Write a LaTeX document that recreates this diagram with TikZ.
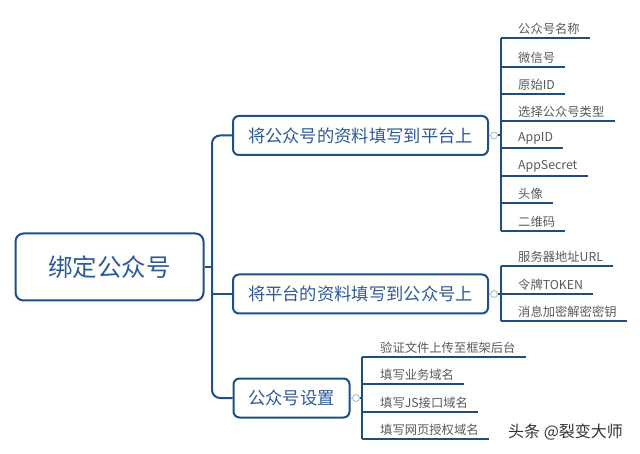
\documentclass[tikz,border=0pt]{standalone}
\usepackage{fontspec}
\setmainfont{Noto Sans CJK SC}
\usetikzlibrary{calc}
\definecolor{boxblue}{HTML}{1F4E8A}
\definecolor{txtblue}{HTML}{2E5A96}
\definecolor{lineblue}{HTML}{1F4E79}
\definecolor{leafgray}{HTML}{5A5A5A}
\definecolor{dotgray}{HTML}{A9B7C9}
\tikzset{
  rootbox/.style={draw=boxblue, line width=2pt, rounded corners=8pt, fill=white,
    minimum width=188pt, minimum height=67pt, inner sep=0pt,
    text=txtblue, font=\fontsize{24.5}{27}\selectfont},
  branchbox/.style={draw=boxblue, line width=2pt, rounded corners=6pt, fill=white,
    minimum height=39pt, inner sep=0pt, text=txtblue, font=\fontsize{17.3}{20}\selectfont},
  leaf/.style={anchor=south west, inner xsep=0pt, inner ysep=3pt, text=leafgray,
    font=\fontsize{12.3}{14}\selectfont},
  conn/.style={draw=boxblue, line width=2pt},
  leafline/.style={draw=lineblue, line width=2pt},
  toggle/.style={circle, draw=dotgray, line width=0.8pt, fill=white, minimum size=7pt, inner sep=0pt},
  thin/.style={draw=dotgray, line width=0.8pt},
}
\begin{document}
\begin{tikzpicture}[x=1pt,y=-1pt]
\useasboundingbox[fill=white] (0,0) rectangle (640,454);

% root and branches
\node[rootbox] (root) at (109.5,267) {绑定公众号};
\node[branchbox, minimum width=255pt] (b1) at (360.5,135.5) {将公众号的资料填写到平台上};
\node[branchbox, minimum width=255pt] (b2) at (360.5,294) {将平台的资料填写到公众号上};
\node[branchbox, minimum width=116pt] (b3) at (291.5,398) {公众号设置};

% main trunk
\coordinate (tr) at (212,267);
\draw[conn] (root.east) -- (tr);
\draw[conn, rounded corners=8pt] (b1.west) -| (tr) |- (b3.west);
\draw[conn] (tr |- b2.west) -- (b2.west);

% toggles
\node[toggle] (g1) at (494,135.5) {};
\node[toggle] (g2) at (494,294) {};
\node[toggle] (g3) at (356,398) {};
\draw[thin] (b1.east) -- (g1.west);
\draw[thin] (b2.east) -- (g2.west);
\draw[thin] (b3.east) -- (g3.west);

% leaf trunks
\coordinate (k1) at (501,38);
\coordinate (k1e) at (501,231);
\coordinate (k2) at (501,266);
\coordinate (k2e) at (501,321);
\coordinate (k3) at (362,357);
\coordinate (k3e) at (362,439);
\draw[leafline] (g1.east) -- (k1 |- g1.east);
\draw[leafline] (g2.east) -- (k2 |- g2.east);
\draw[leafline] (g3.east) -- (k3 |- g3.east);
\draw[leafline] (k1) -- (k1e);
\draw[leafline] (k2) -- (k2e);
\draw[leafline] (k3) -- (k3e);

% branch 1 leaves
\node[leaf] (a1) at (518,38) {公众号名称};
\node[leaf] (a2) at (518,67) {微信号};
\node[leaf] (a3) at (518,94) {原始ID};
\node[leaf] (a4) at (518,121) {选择公众号类型};
\node[leaf] (a5) at (518,148) {AppID};
\node[leaf] (a6) at (518,176) {AppSecret};
\node[leaf] (a7) at (518,203) {头像};
\node[leaf] (a8) at (518,231) {二维码};
\foreach \n in {a1,a2,a3,a4,a5,a6,a7,a8}
  \draw[leafline] (k1 |- \n.south) -- ([xshift=10pt]\n.south east);

% branch 2 leaves
\node[leaf] (c1) at (518,266) {服务器地址URL};
\node[leaf] (c2) at (518,294) {令牌TOKEN};
\node[leaf] (c3) at (518,321) {消息加密解密密钥};
\foreach \n in {c1,c2,c3}
  \draw[leafline] (k2 |- \n.south) -- ([xshift=10pt]\n.south east);

% branch 3 leaves
\node[leaf] (d1) at (380,357) {验证文件上传至框架后台};
\node[leaf] (d2) at (380,384) {填写业务域名};
\node[leaf] (d3) at (380,412) {填写JS接口域名};
\node[leaf] (d4) at (380,439) {填写网页授权域名};
\foreach \n in {d1,d2,d3,d4}
  \draw[leafline] (k3 |- \n.south) -- ([xshift=10pt]\n.south east);

% watermark
\node[anchor=west, inner sep=0pt, text=black!80, font=\fontsize{16}{18}\selectfont] (wm) at (508,432) {头条 @裂变大师};
\end{tikzpicture}
\end{document}
